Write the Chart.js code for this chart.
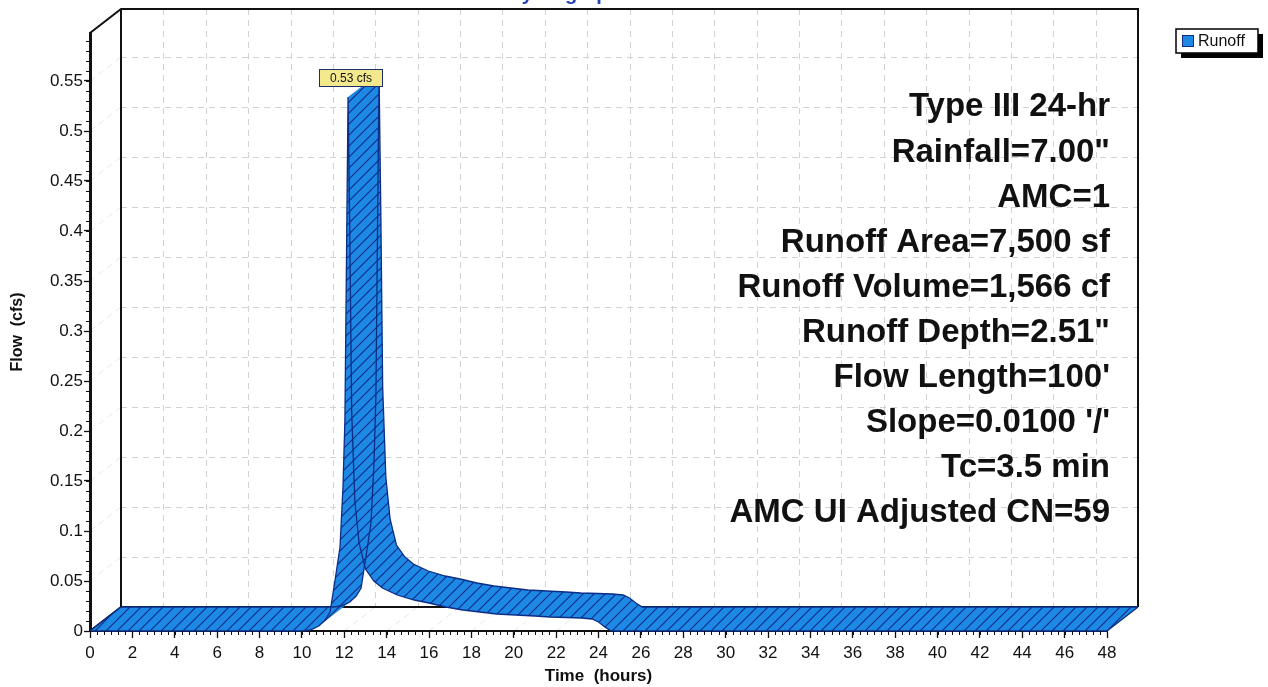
<!DOCTYPE html>
<html>
<head>
<meta charset="utf-8">
<title>Runoff Hydrograph</title>
<script src="https://cdn.jsdelivr.net/npm/chart.js@4.4.1/dist/chart.umd.min.js"></script>
<style>
  html, body { margin: 0; padding: 0; background: #fff; overflow: hidden; }
</style>
</head>
<body>
<canvas id="hydroChart" width="1268" height="687"></canvas>
<script>
// hydrograph: time (hours) and flow (cfs)
const hours = [0, 10.0, 10.4, 10.8, 11.1, 11.33, 11.56, 11.8, 11.94, 12.03, 12.1, 12.18, 12.26, 12.35, 12.5, 12.7,
  13.0, 13.4, 13.8, 14.5, 15.3, 16.0, 16.8, 17.6, 18.4, 19.2, 20.1, 21.0, 21.7, 22.5, 23.2, 23.7, 24.0, 24.3, 24.6, 48];
const runoff = [0, 0, 0.001, 0.005, 0.011, 0.019, 0.05, 0.084, 0.144, 0.21, 0.36, 0.534, 0.40, 0.22, 0.13, 0.088,
  0.062, 0.05, 0.043, 0.036, 0.031, 0.028, 0.024, 0.021, 0.019, 0.017, 0.016, 0.015, 0.014, 0.0135, 0.013, 0.012, 0.009, 0.004, 0, 0];

const xTicks = [0, 2, 4, 6, 8, 10, 12, 14, 16, 18, 20, 22, 24, 26, 28, 30, 32, 34, 36, 38, 40, 42, 44, 46, 48];
const yTicks = [0, 0.05, 0.1, 0.15, 0.2, 0.25, 0.3, 0.35, 0.4, 0.45, 0.5, 0.55];
const yTickLabels = ["0", "0.05", "0.1", "0.15", "0.2", "0.25", "0.3", "0.35", "0.4", "0.45", "0.5", "0.55"];

const seriesName = "Runoff";
const peakLabel = "0.53 cfs";
const notes = [
  "Type III 24-hr",
  "Rainfall=7.00\"",
  "AMC=1",
  "Runoff Area=7,500 sf",
  "Runoff Volume=1,566 cf",
  "Runoff Depth=2.51\"",
  "Flow Length=100'",
  "Slope=0.0100 '/'",
  "Tc=3.5 min",
  "AMC UI Adjusted CN=59"
];

// depth of the fake 3-D box (pixels)
const DX = 31, DY = -24;
const BLUE = "#1e88e5", NAVY = "#0b2d86", INK = "#111";

Chart.defaults.font.family = "'Liberation Sans', Arial, sans-serif";
Chart.defaults.color = INK;

let ctx = document.getElementById("hydroChart").getContext("2d");

function hatchPattern() {
  const c = document.createElement("canvas");
  c.width = c.height = 11;
  const g = c.getContext("2d");
  g.fillStyle = BLUE;
  g.fillRect(0, 0, 11, 11);
  g.strokeStyle = NAVY;
  g.lineWidth = 1.1;
  g.beginPath();
  g.moveTo(-1, 12); g.lineTo(12, -1);
  g.moveTo(-1, 1); g.lineTo(1, -1);
  g.moveTo(10, 12); g.lineTo(12, 10);
  g.stroke();
  return ctx.createPattern(c, "repeat");
}

function seg(c, x1, y1, x2, y2) {
  c.beginPath(); c.moveTo(x1, y1); c.lineTo(x2, y2); c.stroke();
}

const box3d = {
  id: "box3d",
  beforeDraw(chart) {
    const c = chart.ctx;
    const { left, right, top, bottom } = chart.chartArea;
    const sx = chart.scales.x, sy = chart.scales.y;
    c.save();
    // back wall grid
    c.strokeStyle = "#d2d2d2";
    c.lineWidth = 1;
    c.setLineDash([6, 5]);
    xTicks.forEach(t => {
      const px = Math.round(sx.getPixelForValue(t) + DX) + 0.5;
      seg(c, px, top + DY, px, bottom + DY);
    });
    yTicks.forEach(v => {
      const py = Math.round(sy.getPixelForValue(v) + DY) + 0.5;
      seg(c, left + DX, py, right + DX, py);
    });
    // side wall and floor depth lines
    c.strokeStyle = "#e6e6e6";
    yTicks.forEach(v => {
      const py = sy.getPixelForValue(v);
      seg(c, left, py, left + DX, py + DY);
    });
    xTicks.forEach(t => {
      const px = sx.getPixelForValue(t);
      seg(c, px, bottom, px + DX, bottom + DY);
    });
    c.setLineDash([]);
    // frame of the box
    c.strokeStyle = INK;
    c.lineWidth = 2;
    c.beginPath();
    c.moveTo(left, top);
    c.lineTo(left + DX, top + DY);
    c.lineTo(right + DX, top + DY);
    c.lineTo(right + DX, bottom + DY);
    c.stroke();
    c.beginPath();
    c.moveTo(left + DX, top + DY);
    c.lineTo(left + DX, bottom + DY);
    c.lineTo(right + DX, bottom + DY);
    c.stroke();
    seg(c, left, bottom, left + DX, bottom + DY);
    c.restore();
  },
  beforeDatasetsDraw(chart) {
    const c = chart.ctx;
    const pts = chart.getDatasetMeta(0).data;
    c.save();
    // ribbon surface: one quad per segment, all wound the same way
    c.beginPath();
    for (let i = 0; i < pts.length - 1; i++) {
      const a = pts[i], b = pts[i + 1];
      let q = [[a.x, a.y], [b.x, b.y], [b.x + DX, b.y + DY], [a.x + DX, a.y + DY]];
      let area = 0;
      for (let k = 0; k < 4; k++) {
        const p = q[k], n = q[(k + 1) % 4];
        area += p[0] * n[1] - n[0] * p[1];
      }
      if (area < 0) q = q.reverse();
      c.moveTo(q[0][0], q[0][1]);
      for (let k = 1; k < 4; k++) c.lineTo(q[k][0], q[k][1]);
      c.closePath();
    }
    c.fillStyle = hatchPattern();
    c.fill("nonzero");
    // back edge and end edges
    c.strokeStyle = NAVY;
    c.lineWidth = 1.3;
    c.beginPath();
    pts.forEach((p, i) => i ? c.lineTo(p.x + DX, p.y + DY) : c.moveTo(p.x + DX, p.y + DY));
    c.stroke();
    const f = pts[0], l = pts[pts.length - 1];
    seg(c, f.x, f.y, f.x + DX, f.y + DY);
    seg(c, l.x, l.y, l.x + DX, l.y + DY);
    c.restore();
  },
  afterDraw(chart) {
    const c = chart.ctx;
    const { left, right, top, bottom } = chart.chartArea;
    const sx = chart.scales.x, sy = chart.scales.y;
    c.save();
    // minor ticks
    c.strokeStyle = INK;
    c.lineWidth = 1;
    for (let v = 0.01; v < sy.max; v += 0.01) {
      const py = Math.round(sy.getPixelForValue(v)) + 0.5;
      seg(c, left - 4, py, left, py);
    }
    for (let t = 0; t <= 48; t += 1 / 3) {
      const px = Math.round(sx.getPixelForValue(t)) + 0.5;
      seg(c, px, bottom, px, bottom + 4);
    }

    // peak label
    const pts = chart.getDatasetMeta(0).data;
    let pk = 0;
    runoff.forEach((v, i) => { if (v > runoff[pk]) pk = i; });
    const w = 63, h = 17;
    const bx = Math.round(pts[pk].x + 2 - w / 2) + 0.5;
    const by = Math.round(pts[pk].y - 11 - h) + 0.5;
    c.fillStyle = "#f4e98c";
    c.fillRect(bx, by, w, h);
    c.strokeStyle = "#1b2f6e";
    c.lineWidth = 1;
    c.strokeRect(bx, by, w, h);
    c.fillStyle = INK;
    c.font = "12px 'Liberation Sans', Arial, sans-serif";
    c.textAlign = "center";
    c.textBaseline = "middle";
    c.fillText(peakLabel, bx + w / 2, by + h / 2 + 1);

    // storm notes
    c.font = "bold 33px 'Liberation Sans', Arial, sans-serif";
    c.textAlign = "right";
    c.textBaseline = "alphabetic";
    notes.forEach((s, i) => c.fillText(s, 1110, 116.4 + 45.1 * i));

    // title, mostly cut off at the top edge
    c.fillStyle = "#2342b5";
    c.font = "bold 20px 'Liberation Sans', Arial, sans-serif";
    c.textAlign = "center";
    c.fillText("Hydrograph", 564, 0);

    // legend with drop shadow
    c.fillStyle = "#000";
    c.fillRect(1181, 34, 82, 24);
    c.fillStyle = "#fff";
    c.fillRect(1176, 29, 82, 24);
    c.strokeStyle = "#000";
    c.lineWidth = 1.5;
    c.strokeRect(1176, 29, 82, 24);
    c.fillStyle = BLUE;
    c.fillRect(1182, 35, 12, 12);
    c.strokeStyle = NAVY;
    c.lineWidth = 1;
    c.strokeRect(1182.5, 35.5, 11, 11);
    c.fillStyle = INK;
    c.font = "16px 'Liberation Sans', Arial, sans-serif";
    c.textAlign = "left";
    c.textBaseline = "middle";
    c.fillText(seriesName, 1198, 41.5);
    c.restore();
  }
};

let hydroChart = new Chart(ctx, {
  type: "line",
  data: {
    datasets: [{
      label: seriesName,
      data: hours.map((t, i) => ({ x: t, y: runoff[i] })),
      borderColor: NAVY,
      borderWidth: 1.3,
      pointRadius: 0,
      tension: 0,
      fill: false,
      clip: false
    }]
  },
  options: {
    responsive: false,
    animation: false,
    layout: { padding: { left: 0, top: 33, right: 161, bottom: 0 } },
    scales: {
      x: {
        type: "linear",
        min: 0,
        max: 48,
        afterBuildTicks: s => { s.ticks = xTicks.map(v => ({ value: v })); },
        afterFit: s => { s.height = 56; },
        ticks: { autoSkip: false, maxRotation: 0, padding: 5, font: { size: 17 }, color: INK,
                 callback: (v, i) => String(xTicks[i]) },
        grid: { drawOnChartArea: false, drawTicks: true, tickLength: 7, tickColor: INK, tickWidth: 1.3 },
        border: { display: true, color: INK, width: 2 },
        title: { display: true, text: "Time  (hours)", color: INK,
                 font: { size: 17, weight: "bold" }, padding: { top: 0, bottom: 0 } }
      },
      y: {
        type: "linear",
        min: 0,
        max: 0.598,
        afterBuildTicks: s => { s.ticks = yTicks.map(v => ({ value: v })); },
        afterFit: s => { s.width = 90; },
        ticks: { autoSkip: false, padding: 1, font: { size: 17 }, color: INK,
                 callback: (v, i) => yTickLabels[i] },
        grid: { drawOnChartArea: false, drawTicks: true, tickLength: 6, tickColor: INK, tickWidth: 1.3 },
        border: { display: true, color: INK, width: 3 },
        title: { display: true, text: "Flow  (cfs)", color: INK,
                 font: { size: 16, weight: "bold" }, padding: { top: 8, bottom: 0 } }
      }
    },
    plugins: {
      legend: { display: false },
      tooltip: { enabled: false }
    }
  },
  plugins: [box3d]
});
</script>
</body>
</html>
